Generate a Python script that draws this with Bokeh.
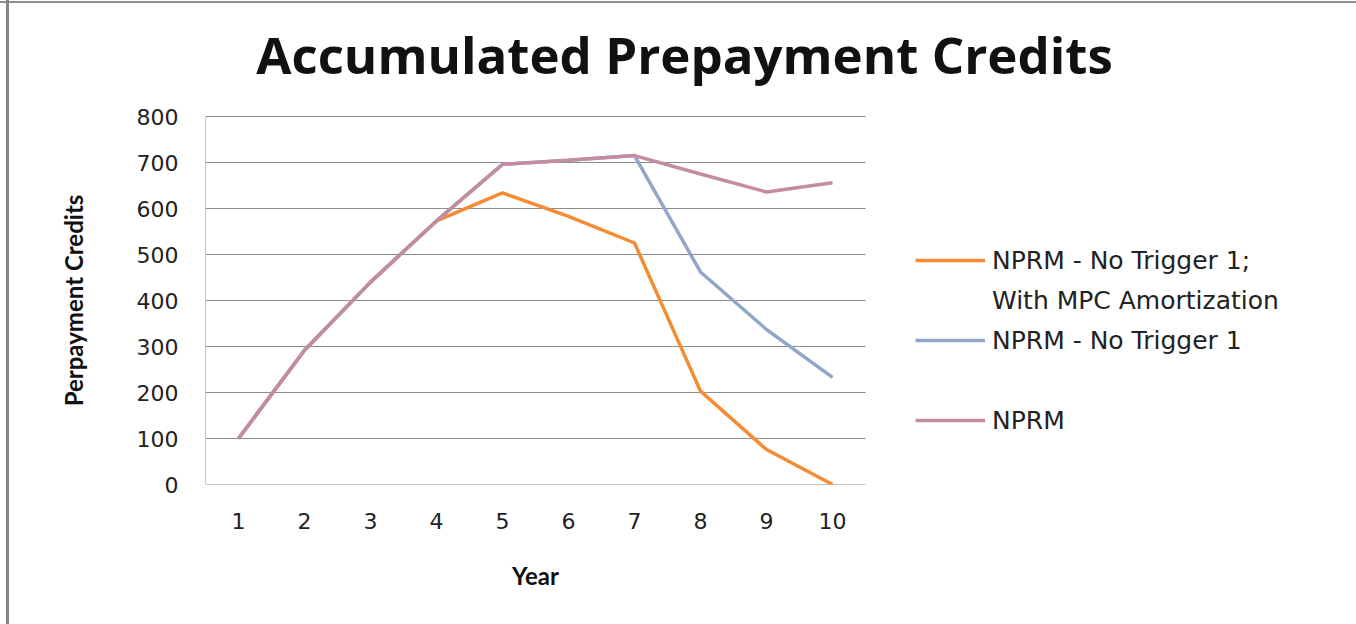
from bokeh.plotting import figure
from bokeh.models import FixedTicker, Range1d, Legend, LegendItem, LinearAxis, Label
from bokeh.embed import file_html
from bokeh.resources import INLINE

years = [1, 2, 3, 4, 5, 6, 7, 8, 9, 10]
year_labels = ["1", "2", "3", "4", "5", "6", "7", "8", "9", "10"]
y_ticks = [0, 100, 200, 300, 400, 500, 600, 700, 800]
nprm_no_trigger_mpc = [100, 292, 440, 573, 634, 583, 525, 203, 76, 0]
nprm_no_trigger = [100, 292, 440, 573, 696, 705, 715, 462, 337, 233]
nprm = [100, 292, 440, 573, 696, 705, 715, 675, 636, 656]
series_names = ["NPRM - No Trigger 1;", "With MPC Amortization", "NPRM - No Trigger 1", "NPRM"]
x_title = "Year"
y_title = "Perpayment Credits"
chart_title = "Accumulated Prepayment Credits"

ORANGE = "#F58B33"
BLUE = "#92A6C8"
PINK = "#C38CA2"
GRID = "#8C8C8C"
TXT = "#222222"

# ---- layout geometry (pixels) ----
W, H = 1356, 624
PLOT_L, PLOT_R = 205, 865      # category axis span
PLOT_T, PLOT_B = 116, 484      # value axis span (800 .. 0)
X_LO, X_HI = 0.5, 10.5
Y_LO, Y_HI = 0, 800
px_x = (PLOT_R - PLOT_L) / (X_HI - X_LO)
px_y = (PLOT_B - PLOT_T) / (Y_HI - Y_LO)
x_end = X_HI + (W - PLOT_R) / px_x
y_end = Y_LO + PLOT_B / px_y

def data_x(px):
    return X_LO + (px - PLOT_L) / px_x

def data_y(py):
    return Y_LO + (PLOT_B - py) / px_y

p = figure(width=W, height=H, output_backend="svg", toolbar_location=None,
           x_range=Range1d(X_LO, x_end), y_range=Range1d(Y_LO, y_end),
           min_border_left=PLOT_L, min_border_right=0, min_border_top=0,
           min_border_bottom=H - PLOT_B)

p.background_fill_alpha = 0
p.border_fill_alpha = 0
p.outline_line_color = None
p.styles = {
    "background": "linear-gradient(to right, rgba(0,0,0,0) 6px, #858585 6px, #858585 9px, rgba(0,0,0,0) 9px), "
                  "linear-gradient(to bottom, rgba(0,0,0,0) 1px, #8f8f8f 1px, #8f8f8f 3px, rgba(0,0,0,0) 3px), white"
}

# grid lines and value-axis line limited to the plot span
p.xgrid.grid_line_color = None
p.ygrid.grid_line_color = None
p.segment(x0=[X_LO] * len(y_ticks), x1=[X_HI] * len(y_ticks), y0=y_ticks, y1=y_ticks,
          line_color=GRID, line_width=1)
p.segment(x0=[X_LO], x1=[X_LO], y0=[Y_LO], y1=[Y_HI], line_color=GRID, line_width=1)

p.yaxis.ticker = FixedTicker(ticks=y_ticks)
p.xaxis.ticker = FixedTicker(ticks=years)
p.xaxis.major_label_overrides = {y: l for y, l in zip(years, year_labels)}

for ax in (p.xaxis, p.yaxis):
    ax.axis_line_color = None
    ax.major_tick_out = 0
    ax.major_tick_in = 0
    ax.minor_tick_out = 0
    ax.minor_tick_in = 0
    ax.major_label_text_font = "DejaVu Sans"
    ax.major_label_text_font_size = "22px"
    ax.major_label_text_color = TXT

p.yaxis.major_label_standoff = 27
p.xaxis.major_label_standoff = 28

# axis titles as single-tick outer axes, centred on the plot span
x_mid = (X_LO + X_HI) / 2
y_mid = (Y_LO + Y_HI) / 2
ax_x = LinearAxis(ticker=FixedTicker(ticks=[x_mid]), major_label_overrides={x_mid: x_title},
                  axis_line_color=None, major_tick_out=0, major_tick_in=0,
                  minor_tick_out=0, minor_tick_in=0,
                  major_label_text_font="Lato", major_label_text_font_style="bold",
                  major_label_text_font_size="24px", major_label_text_color="#111111",
                  major_label_standoff=29)
p.add_layout(ax_x, "below")
ax_y = LinearAxis(ticker=FixedTicker(ticks=[y_mid]), major_label_overrides={y_mid: y_title},
                  axis_line_color=None, major_tick_out=0, major_tick_in=0,
                  minor_tick_out=0, minor_tick_in=0,
                  major_label_orientation="parallel",
                  major_label_text_font="Lato", major_label_text_font_style="bold",
                  major_label_text_font_size="24px", major_label_text_color="#111111",
                  major_label_standoff=46)
p.add_layout(ax_y, "left")

# chart title
p.add_layout(Label(x=data_x(684), y=data_y(53), text=chart_title,
                   text_font="Open Sans", text_font_style="bold", text_font_size="51px",
                   text_color="#111111", text_align="center", text_baseline="middle"))

r1 = p.line(years, nprm_no_trigger_mpc, line_color=ORANGE, line_width=3.5)
r2 = p.line(years, nprm_no_trigger, line_color=BLUE, line_width=3.5)
r3 = p.line(years, nprm, line_color=PINK, line_width=3.5)
dummy = p.line([], [], line_alpha=0)

legend = Legend(items=[
    LegendItem(label=series_names[0], renderers=[r1]),
    LegendItem(label=series_names[1], renderers=[dummy]),
    LegendItem(label=series_names[2], renderers=[r2]),
    LegendItem(label=" ", renderers=[dummy]),
    LegendItem(label=series_names[3], renderers=[r3]),
], location=(710, 49))
legend.padding = 0
legend.margin = 0
legend.spacing = 10
legend.border_line_alpha = 0
legend.background_fill_alpha = 0
legend.glyph_width = 70
legend.glyph_height = 30
legend.label_height = 30
legend.label_standoff = 7
legend.label_text_font = "DejaVu Sans"
legend.label_text_font_size = "25px"
legend.label_text_color = TXT
legend.label_text_baseline = "middle"
p.add_layout(legend, "center")

open("out.html", "w").write(file_html(p, INLINE))
